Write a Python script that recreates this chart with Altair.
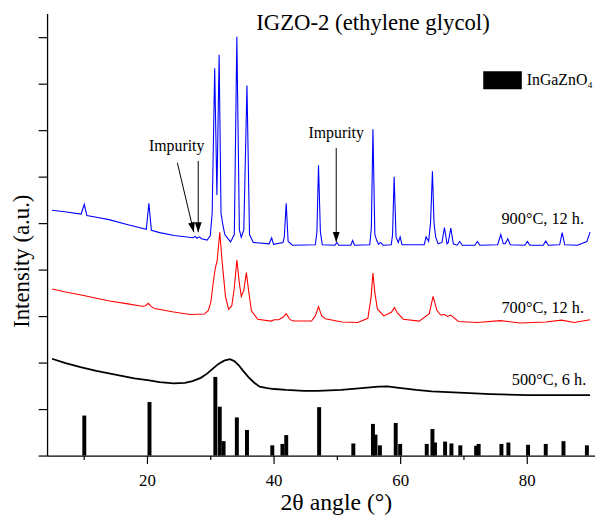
import math
import altair as alt
import pandas as pd

FONT = "Liberation Serif"

# ---- reference pattern (InGaZnO4) ----
ref_pos = [10.1, 20.4, 30.8, 31.5, 32.1, 34.2, 35.8, 39.8, 41.4, 42.0, 47.2, 52.6,
           55.7, 56.1, 56.8, 59.3, 60.0, 64.2, 65.1, 65.5, 67.1, 68.1, 69.5, 72.0,
           72.4, 76.0, 77.1, 80.2, 83.0, 85.8, 89.5]
ref_int = [0.86, 1.15, 1.69, 1.05, 0.31, 0.82, 0.55, 0.22, 0.25, 0.44, 1.04, 0.26,
           0.68, 0.45, 0.22, 0.70, 0.25, 0.25, 0.57, 0.28, 0.30, 0.26, 0.22, 0.21,
           0.25, 0.25, 0.28, 0.23, 0.25, 0.31, 0.22]

# ---- 900 C, 12 h (blue) ----
blue_x = [5.0, 7.0, 9.6, 10.1, 10.5, 12, 14, 17, 19.9, 20.3, 20.7, 22, 24.3, 27.3, 27.6,
          27.9, 28.3, 28.6, 29.5, 30.0, 30.3, 30.7, 31.05, 31.4, 31.7, 32.0, 32.3, 33.2,
          33.8, 34.2, 34.6, 34.9, 35.3, 35.8, 36.2, 36.8, 39.3, 39.7, 40.0, 41.5, 41.7,
          42.0, 42.3, 43, 46.6, 46.85, 47.1, 47.4, 47.7, 49.7, 50.0, 50.3, 52.2, 52.5,
          52.8, 55.2, 55.45, 55.7, 56.0, 56.3, 56.6, 56.9, 57.3, 58.6, 58.8, 59.05, 59.35,
          59.7, 60.0, 60.3, 63.8, 64.1, 64.5, 64.8, 65.1, 65.35, 65.6, 66.0, 66.6, 67.0,
          67.4, 67.6, 68.0, 68.4, 69.0, 69.4, 69.8, 71.8, 72.2, 72.6, 75.4, 75.9, 76.3,
          76.6, 77.0, 77.4, 79.7, 80.1, 80.5, 82.6, 83.0, 83.4, 85.2, 85.6, 86.0, 88,
          89.5, 90]
blue_y = [5.27, 5.24, 5.19, 5.40, 5.16, 5.12, 5.07, 4.96, 4.86, 5.42, 4.84, 4.79, 4.73,
          4.68, 4.71, 4.67, 4.70, 4.66, 4.63, 4.72, 5.2, 8.32, 5.6, 8.61, 5.2, 4.95, 4.75,
          4.59, 4.75, 9.0, 4.85, 4.69, 4.85, 7.95, 4.75, 4.58, 4.55, 4.68, 4.54, 4.58,
          4.7, 5.42, 4.6, 4.52, 4.53, 4.8, 6.24, 4.8, 4.53, 4.52, 4.58, 4.52, 4.52, 4.62,
          4.52, 4.53, 4.9, 7.01, 4.75, 4.62, 4.54, 4.58, 4.52, 4.53, 4.75, 5.99, 4.7,
          4.58, 4.7, 4.53, 4.53, 4.7, 4.6, 5.0, 6.11, 5.0, 4.7, 4.55, 4.58, 4.90, 4.55,
          4.58, 4.89, 4.55, 4.52, 4.6, 4.52, 4.52, 4.60, 4.52, 4.53, 4.75, 4.55, 4.55,
          4.66, 4.53, 4.52, 4.60, 4.52, 4.52, 4.61, 4.52, 4.53, 4.79, 4.53, 4.52, 4.6,
          4.80]

# ---- 700 C, 12 h (red) ----
red_x = [5.0, 7, 10, 12, 14.1, 17, 19.2, 19.8, 20.2, 20.7, 21.2, 24, 26.8, 29.1, 29.7,
         30.1, 30.5, 30.8, 31.1, 31.5, 31.9, 32.4, 32.9, 33.4, 33.8, 34.2, 34.6, 34.9,
         35.3, 35.7, 36.1, 36.5, 37.5, 39.6, 40.1, 40.8, 41.5, 42.0, 42.6, 43.2, 46.0,
         46.6, 47.1, 47.6, 48.2, 50.8, 53.3, 54.9, 55.4, 55.7, 56.0, 56.4, 57.4, 58.6,
         59.1, 59.6, 60.5, 63.0, 64.6, 65.2, 65.8, 66.4, 67.0, 67.5, 68.0, 69.2, 72.2,
         75.8, 78.9, 83.0, 85.5, 87.5, 90.0]
red_y = [3.58, 3.52, 3.44, 3.38, 3.32, 3.26, 3.21, 3.22, 3.27, 3.20, 3.16, 3.09, 3.03,
         3.04, 3.12, 3.30, 3.75, 4.03, 4.2, 4.80, 4.13, 3.42, 3.14, 3.22, 3.6, 4.20, 3.7,
         3.42, 3.55, 3.93, 3.5, 3.11, 2.93, 2.89, 2.92, 2.92, 2.97, 3.05, 2.92, 2.89,
         2.89, 3.0, 3.20, 3.0, 2.94, 2.87, 2.86, 2.95, 3.4, 3.92, 3.5, 3.15, 3.00, 3.08,
         3.18, 3.06, 2.93, 2.89, 3.05, 3.42, 3.12, 3.02, 3.03, 2.99, 3.02, 2.88, 2.86,
         2.90, 2.85, 2.87, 2.91, 2.86, 2.92]

# ---- 500 C, 6 h (black) ----
black_x = [5.0, 7, 9.5, 12, 15.4, 18, 20.1, 22, 24.2, 26, 27.2, 28.5, 29.5, 30.5, 31.3,
           32.2, 33.1, 33.8, 34.5, 35.2, 36.0, 36.9, 37.8, 39, 40.1, 42, 44.8, 47, 50.7,
           53, 56.6, 58.0, 59.5, 62.5, 65, 68.4, 71, 74.3, 80.2, 85, 90]
black_y = [2.08, 1.99, 1.90, 1.82, 1.73, 1.66, 1.62, 1.58, 1.55, 1.56, 1.60, 1.67, 1.76,
           1.88, 1.97, 2.04, 2.07, 2.03, 1.94, 1.82, 1.69, 1.57, 1.48, 1.45, 1.43, 1.41,
           1.39, 1.39, 1.41, 1.44, 1.48, 1.485, 1.46, 1.41, 1.38, 1.36, 1.34, 1.32, 1.30,
           1.30, 1.30]

# ---- annotations ----
title_text = ["IGZO-2 (ethylene glycol)"]
title_x = [55.7]
title_y = [9.30]

series_labels = ["900°C, 12 h.", "700°C, 12 h.", "500°C, 6 h."]
series_label_x = [89.05, 89.05, 89.4]
series_label_y = [5.09, 3.16, 1.62]

impurity_text = ["Impurity", "Impurity"]
impurity_text_x = [24.7, 49.9]
impurity_text_y = [6.65, 6.92]

arrow_x1 = [24.8, 28.1, 49.9]
arrow_y1 = [6.29, 6.33, 6.61]
arrow_x2 = [27.4, 28.1, 49.9]
arrow_y2 = [4.80, 4.80, 4.59]

X_DOM = [5, 90]
Y_DOM = [0, 9.5]
W, H = 554, 447

px_per_x = W / (X_DOM[1] - X_DOM[0])
px_per_y = H / (Y_DOM[1] - Y_DOM[0])
arrow_angle = []
for a, b, c, d in zip(arrow_x1, arrow_y1, arrow_x2, arrow_y2):
    dxp = (c - a) * px_per_x
    dyp = (b - d) * px_per_y
    ang = -math.degrees(math.atan2(dxp, dyp))
    arrow_angle.append(ang % 360)

xs = alt.Scale(domain=X_DOM, nice=False, zero=False)
ys = alt.Scale(domain=Y_DOM, nice=False, zero=False)

x_axis = alt.Axis(
    values=[10, 20, 30, 40, 50, 60, 70, 80],
    labelExpr="datum.value % 20 === 0 ? datum.label : ''",
    tickSize={"condition": {"test": "datum.value % 20 === 0", "value": 8}, "value": 4},
    grid=False, domainColor="black", tickColor="black", domainWidth=1.3, tickWidth=1.2,
    labelFont=FONT, labelFontSize=17, labelColor="black", labelPadding=9,
    title="2θ angle (°)", titleFont=FONT, titleFontSize=24, titleFontWeight="normal",
    titleColor="black", titleX=292, titleY=48, titleBaseline="middle", titleAlign="center",
)
y_axis = alt.Axis(
    values=[i * 0.5 for i in range(20)],
    labels=False,
    tickSize={"condition": {"test": "datum.value % 1 === 0", "value": 9}, "value": 5},
    grid=False, domainColor="black", tickColor="black", domainWidth=1.3, tickWidth=1.2,
    title="Intensity (a.u.)", titleFont=FONT, titleFontSize=23, titleFontWeight="normal",
    titleColor="black", titleAngle=270, titleX=-26, titleY=250, titleBaseline="middle",
    titleAlign="center",
)

ref_df = pd.DataFrame({"pos": ref_pos, "inten": ref_int, "phase": ["InGaZnO₄"] * len(ref_pos)})
bars = alt.Chart(ref_df).mark_bar(size=4, orient="vertical").encode(
    x=alt.X("pos:Q", scale=xs, axis=x_axis),
    y=alt.Y("inten:Q", scale=ys, axis=y_axis),
    color=alt.Color("phase:N", scale=alt.Scale(domain=["InGaZnO₄"], range=["black"]),
                    legend=alt.Legend(title=None, orient="none", legendX=441, legendY=48,
                                      symbolType="M-1,-0.47L1,-0.47L1,0.47L-1,0.47Z",
                                      symbolSize=1521, symbolStrokeWidth=0,
                                      labelFont=FONT, labelFontSize=16, labelColor="black",
                                      labelOffset=5, padding=0)),
)

def line(xv, yv, color, sw):
    df = pd.DataFrame({"x": xv, "y": yv})
    return alt.Chart(df).mark_line(color=color, strokeWidth=sw, interpolate="linear").encode(
        x=alt.X("x:Q", scale=xs), y=alt.Y("y:Q", scale=ys))

black_line = line(black_x, black_y, "black", 1.8)
red_line = line(red_x, red_y, "#ff0000", 1.1)
blue_line = line(blue_x, blue_y, "#0000ff", 1.1)

lab_df = pd.DataFrame({"x": series_label_x, "y": series_label_y, "t": series_labels})
labels = alt.Chart(lab_df).mark_text(font=FONT, fontSize=16.5, align="right",
                                     baseline="middle", color="black").encode(
    x=alt.X("x:Q", scale=xs), y=alt.Y("y:Q", scale=ys), text="t:N")

imp_df = pd.DataFrame({"x": impurity_text_x, "y": impurity_text_y, "t": impurity_text})
imp = alt.Chart(imp_df).mark_text(font=FONT, fontSize=16, align="center",
                                  baseline="middle", color="black").encode(
    x=alt.X("x:Q", scale=xs), y=alt.Y("y:Q", scale=ys), text="t:N")

title_df = pd.DataFrame({"x": title_x, "y": title_y, "t": title_text})
title = alt.Chart(title_df).mark_text(font=FONT, fontSize=23, align="center",
                                      baseline="middle", color="black").encode(
    x=alt.X("x:Q", scale=xs), y=alt.Y("y:Q", scale=ys), text="t:N")

arr_df = pd.DataFrame({"x1": arrow_x1, "y1": arrow_y1, "x2": arrow_x2, "y2": arrow_y2,
                       "ang": arrow_angle})
shafts = alt.Chart(arr_df).mark_rule(color="black", strokeWidth=1).encode(
    x=alt.X("x1:Q", scale=xs), y=alt.Y("y1:Q", scale=ys), x2="x2:Q", y2="y2:Q")
heads = alt.Chart(arr_df).mark_point(shape="M0,0L-0.35,-1L0.35,-1Z", filled=True,
                                     size=400, color="black", opacity=1,
                                     strokeWidth=0).encode(
    x=alt.X("x2:Q", scale=xs), y=alt.Y("y2:Q", scale=ys),
    angle=alt.Angle("ang:Q", scale=None))

chart = alt.layer(bars, black_line, red_line, blue_line, labels, imp, title, shafts,
                  heads).properties(
    width=W, height=H,
    autosize=alt.AutoSizeParams(type="none"),
    padding={"left": 39.5, "top": 2.7, "right": 0, "bottom": 60},
).configure_view(strokeWidth=0)

chart.save("out.html", embed_options={"renderer": "svg", "actions": False})
